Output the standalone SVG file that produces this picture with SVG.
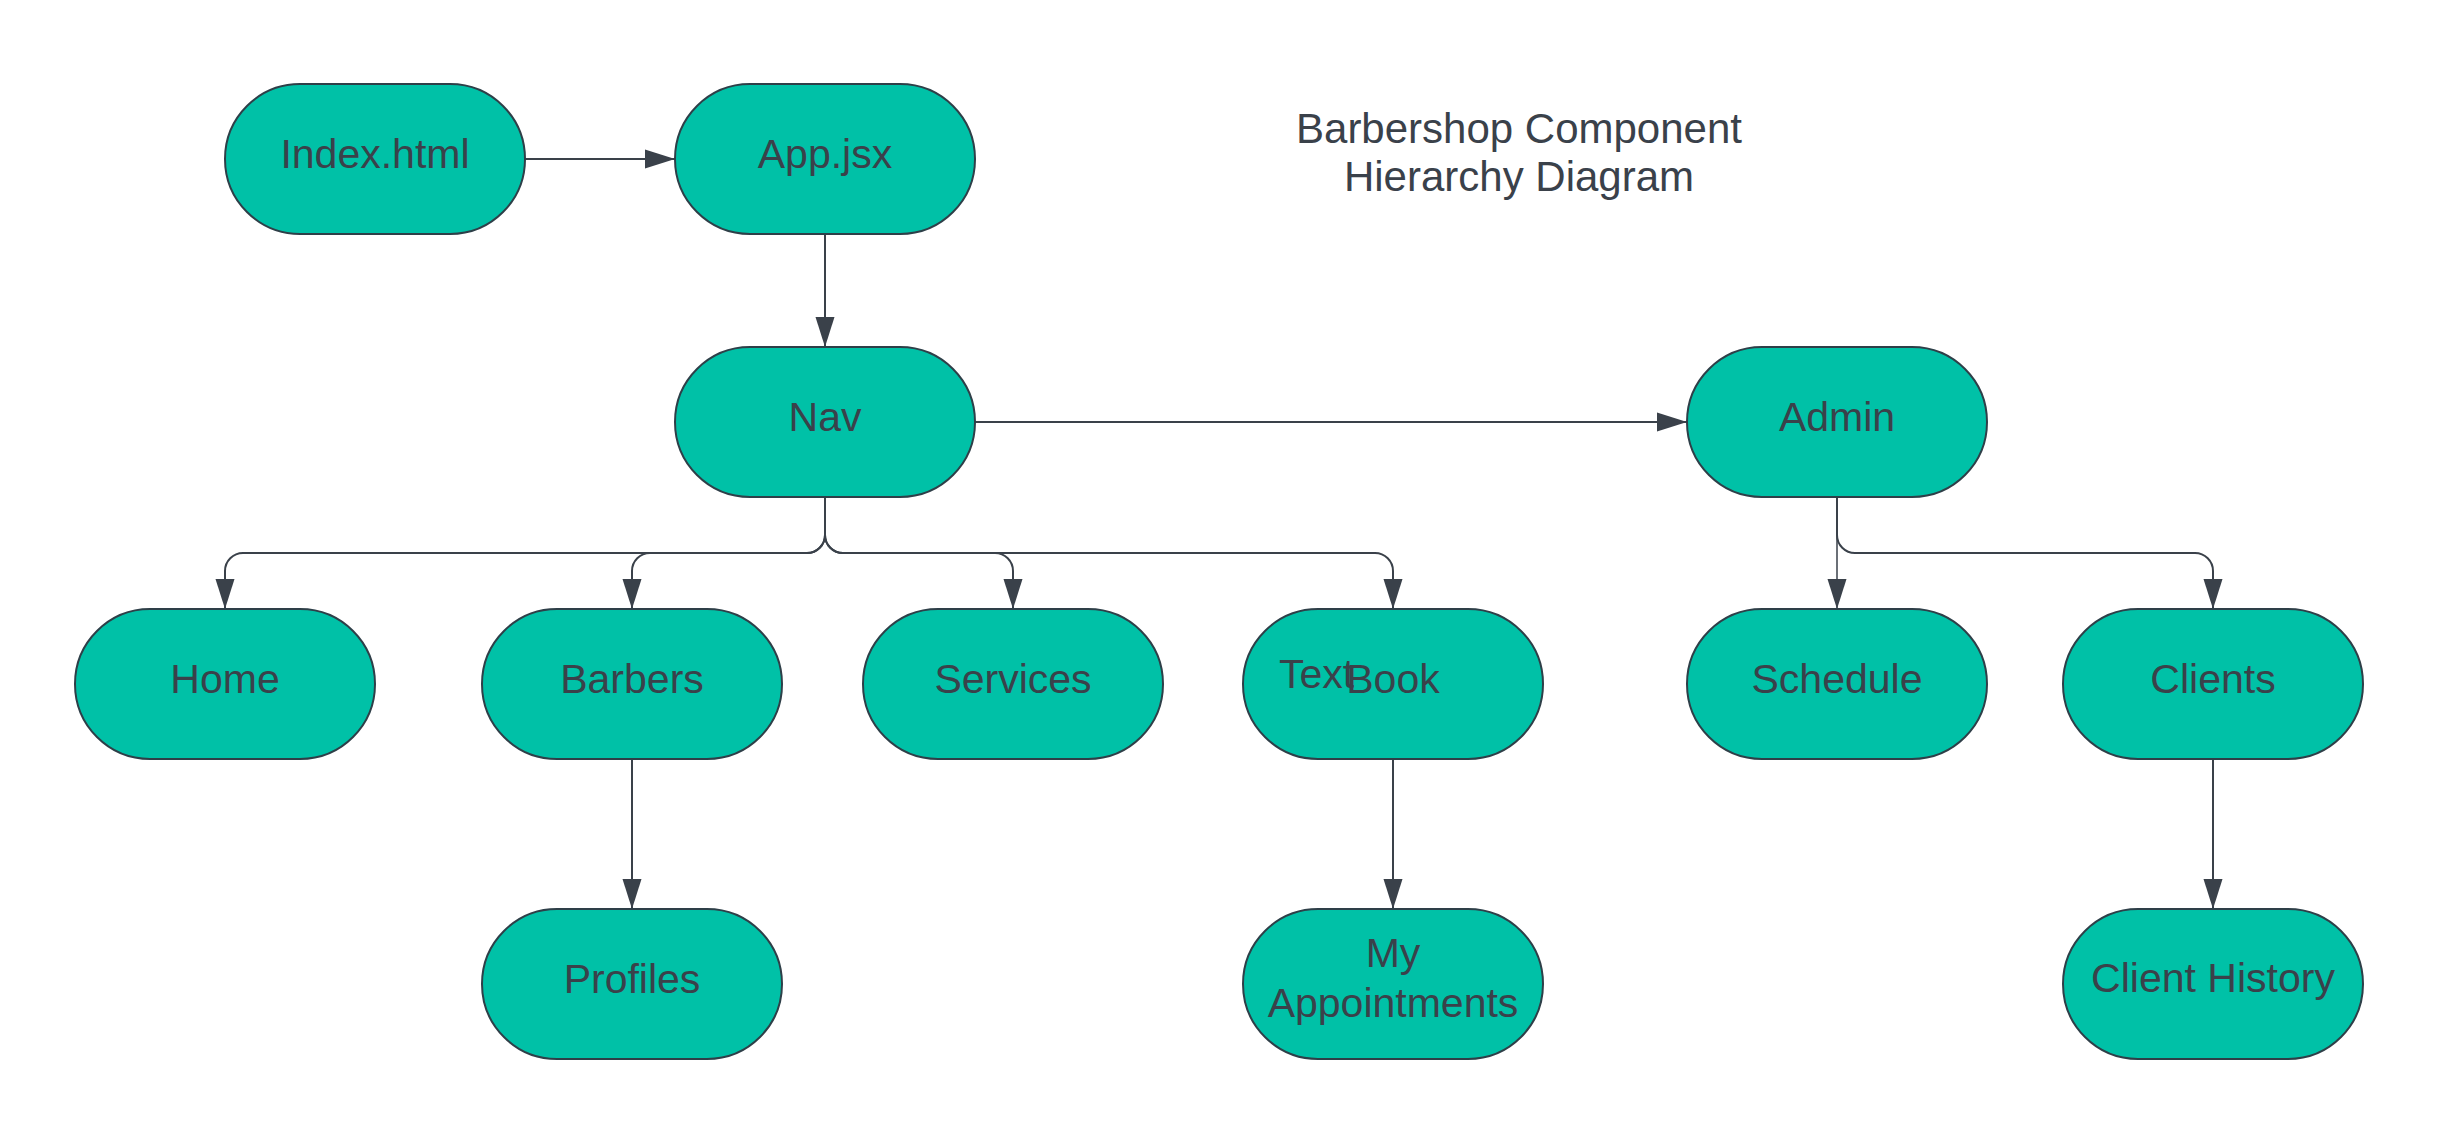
<svg xmlns="http://www.w3.org/2000/svg" width="2438" height="1134" viewBox="0 0 2438 1134">
<style>
.node rect{fill:#00c1a7;stroke:#2e3f48;stroke-width:2}
text{font-family:"Liberation Sans",Arial,sans-serif;fill:#3a414a}
.node text{font-size:41px;text-anchor:middle}
.title{font-size:42px;text-anchor:middle}
.conn path{fill:none;stroke:#3a414a;stroke-width:2;marker-end:url(#arr)}
</style>
<defs>
<marker id="arr" viewBox="0 0 30 20" refX="30" refY="10" markerWidth="30" markerHeight="20" markerUnits="userSpaceOnUse" orient="auto">
<path d="M0,0.5 L30,10 L0,19.5 Z" fill="#3a414a"/>
</marker>
</defs>
<rect width="2438" height="1134" fill="#ffffff"/>
<g id="connectors" class="conn">
<path d="M525,159 H675"/>
<path d="M825,234 V347"/>
<path d="M975,422 H1687"/>
<path d="M825,497 V535 A18,18 0 0 1 807,553 H243 A18,18 0 0 0 225,571 V609"/>
<path d="M825,497 V535 A18,18 0 0 1 807,553 H650 A18,18 0 0 0 632,571 V609"/>
<path d="M825,497 V535 A18,18 0 0 0 843,553 H995 A18,18 0 0 1 1013,571 V609"/>
<path d="M825,497 V535 A18,18 0 0 0 843,553 H1375 A18,18 0 0 1 1393,571 V609"/>
<path d="M1837,497 V609" style="stroke-width:1.5"/>
<path d="M1837,497 V535 A18,18 0 0 0 1855,553 H2195 A18,18 0 0 1 2213,571 V609"/>
<path d="M632,759 V909"/>
<path d="M1393,759 V909"/>
<path d="M2213,759 V909"/>
</g>
<g id="index" class="node"><rect x="225" y="84" width="300" height="150" rx="75"/><text x="375" y="168">Index.html</text></g>
<g id="app" class="node"><rect x="675" y="84" width="300" height="150" rx="75"/><text x="825" y="168">App.jsx</text></g>
<g id="nav" class="node"><rect x="675" y="347" width="300" height="150" rx="75"/><text x="825" y="431">Nav</text></g>
<g id="admin" class="node"><rect x="1687" y="347" width="300" height="150" rx="75"/><text x="1837" y="431">Admin</text></g>
<g id="home" class="node"><rect x="75" y="609" width="300" height="150" rx="75"/><text x="225" y="693">Home</text></g>
<g id="barbers" class="node"><rect x="482" y="609" width="300" height="150" rx="75"/><text x="632" y="693">Barbers</text></g>
<g id="services" class="node"><rect x="863" y="609" width="300" height="150" rx="75"/><text x="1013" y="693">Services</text></g>
<g id="book" class="node"><rect x="1243" y="609" width="300" height="150" rx="75"/><text x="1279" y="688" style="text-anchor:start">Text</text><text x="1393" y="693">Book</text></g>
<g id="schedule" class="node"><rect x="1687" y="609" width="300" height="150" rx="75"/><text x="1837" y="693">Schedule</text></g>
<g id="clients" class="node"><rect x="2063" y="609" width="300" height="150" rx="75"/><text x="2213" y="693">Clients</text></g>
<g id="profiles" class="node"><rect x="482" y="909" width="300" height="150" rx="75"/><text x="632" y="993">Profiles</text></g>
<g id="myappointments" class="node"><rect x="1243" y="909" width="300" height="150" rx="75"/><text x="1393" y="967">My</text><text x="1393" y="1017">Appointments</text></g>
<g id="clienthistory" class="node"><rect x="2063" y="909" width="300" height="150" rx="75"/><text x="2213" y="992">Client History</text></g>
<g id="title"><text class="title" x="1519" y="143">Barbershop Component</text><text class="title" x="1519" y="191">Hierarchy Diagram</text></g>
</svg>
